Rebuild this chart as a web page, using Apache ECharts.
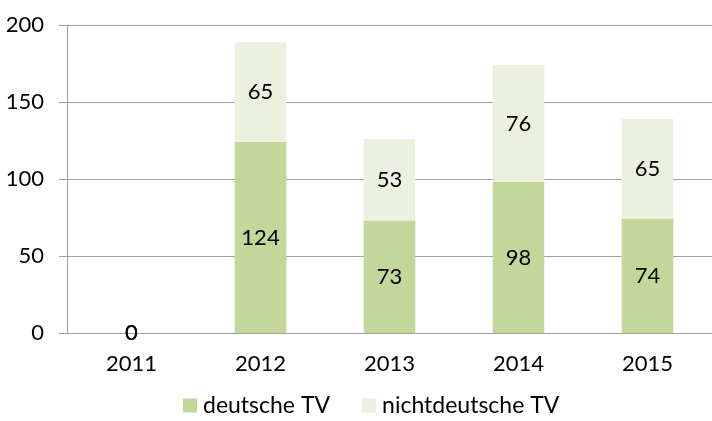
<!DOCTYPE html>
<html><head><meta charset="utf-8">
<script src="https://cdn.jsdelivr.net/npm/echarts@6/dist/echarts.min.js"></script>
<style>html,body{margin:0;padding:0;background:#fff}#c{width:712px;height:421px}</style>
</head><body><div id="c"></div>
<script>
const categories = ['2011','2012','2013','2014','2015'];
const deutscheTV = [0,124,73,98,74];
const nichtdeutscheTV = [0,65,53,76,65];
const yTicks = {min:0, max:200, interval:50};

const font = 'Lato, "Open Sans", sans-serif';
const chart = echarts.init(document.getElementById('c'));
const lbl = {show:true, position:'inside', color:'#000', fontSize:22, fontFamily:font};
chart.setOption({
  animation:false,
  grid:{left:67, top:25, right:-5, height:308},
  legend:{bottom:-1, left:178, itemWidth:14, itemHeight:14, itemGap:32, icon:'rect',
    textStyle:{fontSize:23, fontFamily:font, color:'#000', padding:[0,0,0,1]},
    data:['deutsche TV','nichtdeutsche TV']},
  xAxis:{type:'category', data:categories,
    axisLine:{lineStyle:{color:'#a0a0a0'}},
    axisTick:{length:7, lineStyle:{color:'#a0a0a0'}},
    axisLabel:{fontSize:22, fontFamily:font, color:'#000', margin:20}},
  yAxis:{type:'value', min:yTicks.min, max:yTicks.max, interval:yTicks.interval,
    axisLine:{show:true, lineStyle:{color:'#a0a0a0'}},
    axisTick:{show:true, length:8, lineStyle:{color:'#a0a0a0'}},
    splitLine:{lineStyle:{color:'#a0a0a0'}},
    axisLabel:{fontSize:22, fontFamily:font, color:'#000', margin:23}},
  series:[
    {name:'deutsche TV', type:'bar', stack:'a', barWidth:'40%', data:deutscheTV,
     itemStyle:{color:'#c4d79b'}, label:lbl},
    {name:'nichtdeutsche TV', type:'bar', stack:'a', barWidth:'40%', data:nichtdeutscheTV,
     itemStyle:{color:'#ebf1de'}, label:lbl}
  ]
});
</script></body></html>
